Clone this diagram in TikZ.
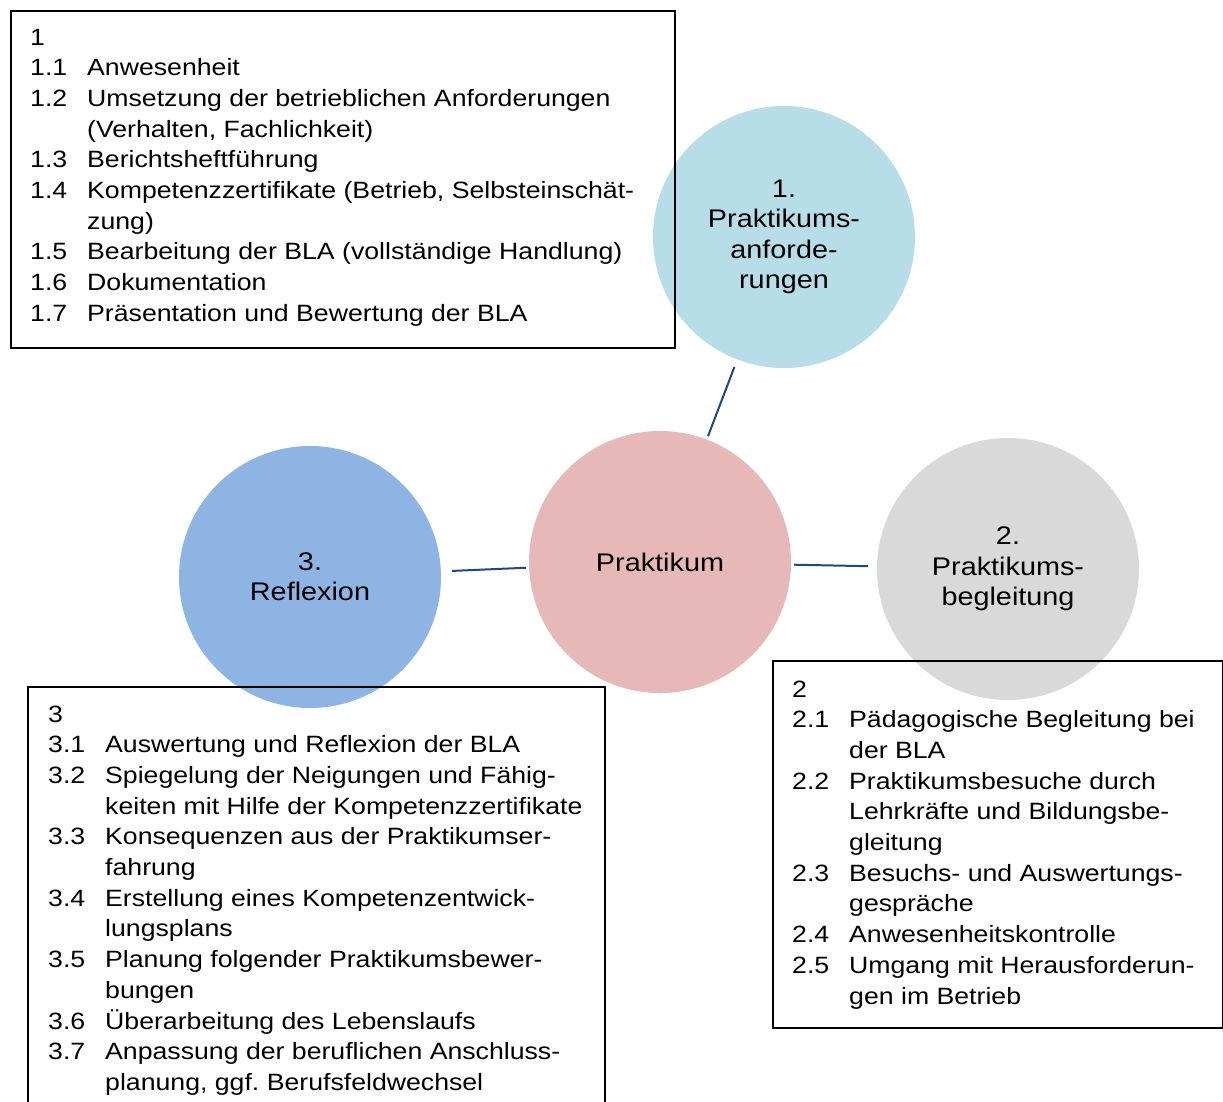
\documentclass[tikz,border=0pt]{standalone}
\usepackage{fontspec}
\setmainfont{Liberation Sans}[FakeStretch=1.13]
\usepackage{array}
\frenchspacing
\definecolor{aquaLight}{HTML}{B7DEE8}
\definecolor{roseLight}{HTML}{E6B9B8}
\definecolor{skyBlue}{HTML}{8EB4E3}
\definecolor{greyLight}{HTML}{D9D9D9}
\definecolor{linkBlue}{HTML}{1F497D}
\newcommand{\listfont}{\fontsize{23.6}{30.7}\selectfont}
\tikzset{
  topic/.style={circle, draw=none, minimum size=262pt, inner sep=0pt,
    align=center, font=\fontsize{25.5}{30.4}\selectfont},
  listbox/.style={draw=black, line width=1.6pt, fill=none, inner sep=0pt},
  listtext/.style={anchor=base west, inner sep=0pt, font=\listfont},
  link/.style={draw=linkBlue, line width=2pt}
}
\begin{document}
\begin{tikzpicture}[x=1pt,y=-1pt]
\clip (0,0) rectangle (1223,1101);
\fill[white] (0,0) rectangle (1223,1101);

% circles
\node[topic, fill=aquaLight] (anf) at (784,237) {1.\\Praktikums-\\anforde-\\rungen};
\node[topic, fill=roseLight] (prak) at (660,562) {Praktikum};
\node[topic, fill=skyBlue] (refl) at (310,577) {3.\\Reflexion};
\node[topic, fill=greyLight] (begl) at (1008,569) {2.\\Praktikums-\\begleitung};

% connectors
\draw[link, shorten <=8pt, shorten >=3.5pt] (anf) -- (prak);
\draw[link, shorten <=11pt, shorten >=3pt] (refl) -- (prak);
\draw[link, shorten <=3pt, shorten >=9pt] (prak) -- (begl);

% frames
\node[listbox, minimum width=664pt, minimum height=337pt, anchor=north west] (box1) at (10,10) {};
\node[listbox, minimum width=450pt, minimum height=367pt, anchor=north west] (box2) at (772,660) {};
\node[listbox, minimum width=577pt, minimum height=440pt, anchor=north west] (box3) at (27,686) {};

% lists
\node[listtext] (list1) at (30,45) {\begin{tabular}[t]{@{}p{57pt}@{}l@{}}
1 & \\
1.1 & Anwesenheit\\
1.2 & Umsetzung der betrieblichen Anforderungen\\
 & (Verhalten, Fachlichkeit)\\
1.3 & Berichtsheftführung\\
1.4 & Kompetenzzertifikate (Betrieb, Selbsteinschät-\\
 & zung)\\
1.5 & Bearbeitung der BLA (vollständige Handlung)\\
1.6 & Dokumentation\\
1.7 & Präsentation und Bewertung der BLA
\end{tabular}};

\node[listtext] (list2) at (792,697) {\begin{tabular}[t]{@{}p{57pt}@{}l@{}}
2 & \\
2.1 & Pädagogische Begleitung bei\\
 & der BLA\\
2.2 & Praktikumsbesuche durch\\
 & Lehrkräfte und Bildungsbe-\\
 & gleitung\\
2.3 & Besuchs- und Auswertungs-\\
 & gespräche\\
2.4 & Anwesenheitskontrolle\\
2.5 & Umgang mit Herausforderun-\\
 & gen im Betrieb
\end{tabular}};

\node[listtext] (list3) at (48,722) {\begin{tabular}[t]{@{}p{57pt}@{}l@{}}
3 & \\
3.1 & Auswertung und Reflexion der BLA\\
3.2 & Spiegelung der Neigungen und Fähig-\\
 & keiten mit Hilfe der Kompetenzzertifikate\\
3.3 & Konsequenzen aus der Praktikumser-\\
 & fahrung\\
3.4 & Erstellung eines Kompetenzentwick-\\
 & lungsplans\\
3.5 & Planung folgender Praktikumsbewer-\\
 & bungen\\
3.6 & Überarbeitung des Lebenslaufs\\
3.7 & Anpassung der beruflichen Anschluss-\\
 & planung, ggf. Berufsfeldwechsel
\end{tabular}};
\end{tikzpicture}
\end{document}
